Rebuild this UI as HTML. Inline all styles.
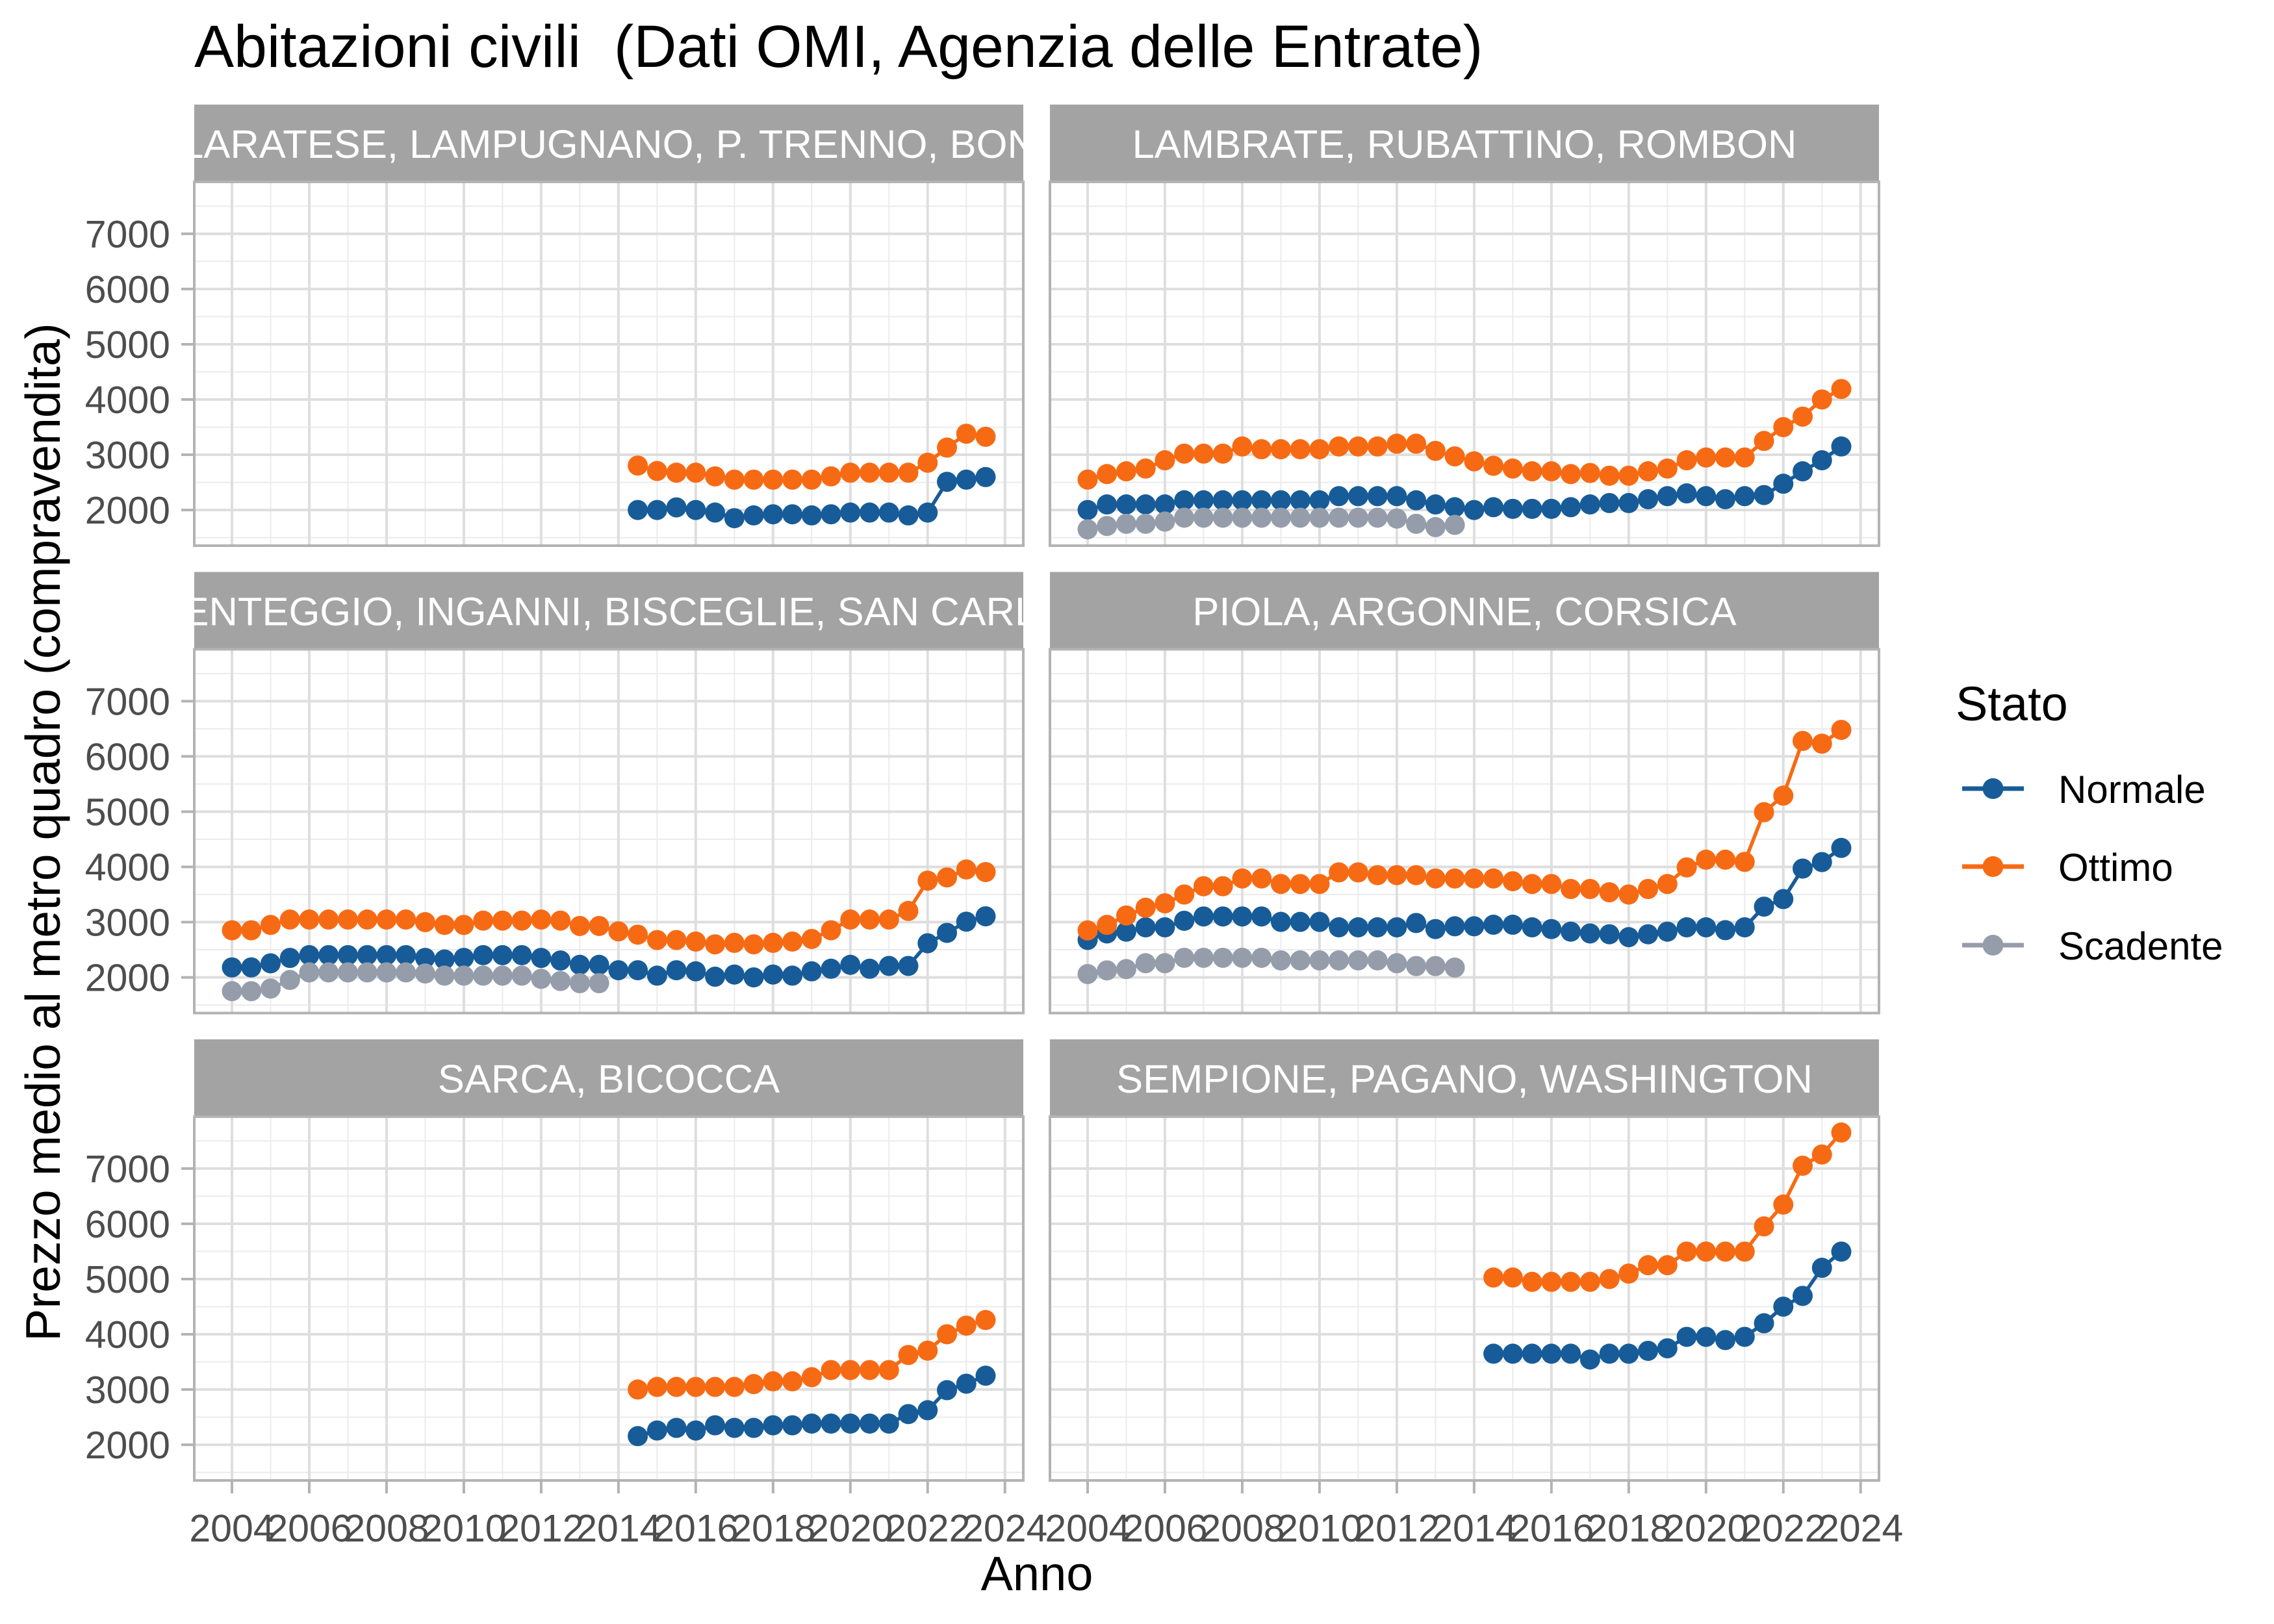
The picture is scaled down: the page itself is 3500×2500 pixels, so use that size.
<!DOCTYPE html>
<html><head><meta charset="utf-8"><title>Abitazioni civili</title>
<style>html,body{margin:0;padding:0;background:#fff}svg{display:block}text{font-family:"Liberation Sans",Arial,sans-serif}</style>
</head><body>
<svg id="chart" xmlns="http://www.w3.org/2000/svg" width="3500" height="2500" viewBox="0 0 3500 2500">
<rect x="0" y="0" width="3500" height="2500" fill="#ffffff"/>
<text x="299" y="103" font-size="91.5" fill="#000" style="white-space:pre">Abitazioni civili &#160;(Dati OMI, Agenzia delle Entrate)</text>
<text transform="translate(92,1281) rotate(-90)" text-anchor="middle" font-size="75" fill="#000">Prezzo medio al metro quadro (compravendita)</text>
<text x="1596" y="2448" text-anchor="middle" font-size="74" fill="#000">Anno</text>
<g id="panels"></g>
<g id="legend">
<text x="3010" y="1109" font-size="74" fill="#000">Stato</text>
</g>
</svg>
<script>
const years = [2004,2004.5,2005,2005.5,2006,2006.5,2007,2007.5,2008,2008.5,2009,2009.5,2010,2010.5,2011,2011.5,2012,2012.5,2013,2013.5,2014,2014.5,2015,2015.5,2016,2016.5,2017,2017.5,2018,2018.5,2019,2019.5,2020,2020.5,2021,2021.5,2022,2022.5,2023,2023.5];
const seriesNames = ["Normale","Ottimo","Scadente"];
const panelTitles = ["GALLARATESE, LAMPUGNANO, P. TRENNO, BONOLA","LAMBRATE, RUBATTINO, ROMBON","LORENTEGGIO, INGANNI, BISCEGLIE, SAN CARLO","PIOLA, ARGONNE, CORSICA","SARCA, BICOCCA","SEMPIONE, PAGANO, WASHINGTON"];
const yTicks = [2000,3000,4000,5000,6000,7000];
const xTicks = [2004,2006,2008,2010,2012,2014,2016,2018,2020,2022,2024];

const gallarateseNormale = [null,null,null,null,null,null,null,null,null,null,null,null,null,null,null,null,null,null,null,null,null,2000,2000,2047,2000,1953,1851,1902,1922,1922,1902,1922,1953,1953,1953,1902,1953,2510,2549,2596];
const gallarateseOttimo = [null,null,null,null,null,null,null,null,null,null,null,null,null,null,null,null,null,null,null,null,null,2804,2706,2675,2675,2608,2549,2549,2549,2549,2549,2608,2675,2675,2675,2675,2855,3129,3380,3325];
const gallarateseScadente = [];

const lambrateNormale = [2000,2100,2100,2100,2100,2175,2175,2175,2175,2175,2175,2175,2175,2250,2250,2250,2250,2175,2100,2050,2000,2050,2020,2020,2020,2050,2100,2125,2125,2195,2250,2300,2250,2195,2250,2270,2475,2700,2900,3150];
const lambrateOttimo = [2550,2650,2700,2750,2900,3020,3020,3020,3150,3100,3100,3100,3100,3150,3150,3150,3200,3200,3070,2970,2880,2800,2750,2700,2700,2650,2670,2620,2620,2700,2750,2900,2950,2950,2950,3250,3500,3690,4000,4190];
const lambrateScadente = [1650,1710,1750,1750,1790,1860,1860,1860,1860,1860,1860,1860,1860,1860,1860,1860,1845,1750,1690,1730];

const lorenteggioNormale = [2180,2180,2254,2352,2402,2402,2402,2402,2402,2402,2352,2324,2352,2402,2402,2402,2352,2305,2227,2227,2129,2129,2031,2129,2109,2012,2051,2000,2051,2031,2109,2156,2227,2156,2207,2207,2617,2805,3008,3105];
const lorenteggioOttimo = [2852,2852,2949,3047,3047,3047,3047,3047,3047,3047,3000,2949,2949,3027,3027,3027,3047,3027,2930,2930,2832,2773,2676,2676,2648,2598,2625,2598,2625,2648,2695,2852,3047,3047,3047,3203,3750,3809,3953,3906];
const lorenteggioScadente = [1750,1750,1797,1953,2090,2090,2090,2090,2090,2090,2070,2031,2031,2031,2031,2031,1973,1934,1895,1895];

const piolaNormale = [2677,2795,2827,2906,2906,3024,3102,3102,3102,3102,3004,3004,3004,2906,2906,2906,2906,2984,2874,2925,2925,2953,2953,2906,2874,2827,2795,2780,2728,2780,2827,2906,2906,2854,2906,3280,3417,3969,4087,4343];
const piolaOttimo = [2850,2950,3120,3260,3340,3500,3650,3650,3790,3790,3690,3690,3690,3900,3900,3850,3850,3850,3790,3790,3790,3790,3740,3690,3690,3600,3600,3540,3500,3600,3690,3990,4130,4130,4090,4990,5290,6280,6230,6480];
const piolaScadente = [2060,2126,2150,2256,2256,2354,2354,2354,2354,2354,2307,2307,2307,2307,2307,2307,2256,2205,2205,2177];

const sarcaNormale = [null,null,null,null,null,null,null,null,null,null,null,null,null,null,null,null,null,null,null,null,null,2156,2258,2305,2258,2352,2305,2305,2352,2352,2383,2383,2383,2383,2383,2555,2625,2988,3105,3250];
const sarcaOttimo = [null,null,null,null,null,null,null,null,null,null,null,null,null,null,null,null,null,null,null,null,null,3000,3047,3047,3047,3047,3047,3098,3148,3148,3223,3352,3352,3352,3352,3625,3703,4000,4156,4258];
const sarcaScadente = [];

const sempioneNormale = [null,null,null,null,null,null,null,null,null,null,null,null,null,null,null,null,null,null,null,null,null,3648,3648,3648,3648,3648,3543,3648,3648,3700,3746,3953,3953,3895,3953,4199,4500,4695,5203,5496];
const sempioneOttimo = [null,null,null,null,null,null,null,null,null,null,null,null,null,null,null,null,null,null,null,null,null,5027,5027,4949,4949,4949,4949,5000,5098,5250,5250,5496,5496,5496,5496,5953,6348,7051,7254,7652];
const sempioneScadente = [];

const colors = {Normale:"#175c98",Ottimo:"#f76a14",Scadente:"#959dab"};
const panelData = [
  [gallarateseNormale,gallarateseOttimo,gallarateseScadente],
  [lambrateNormale,lambrateOttimo,lambrateScadente],
  [lorenteggioNormale,lorenteggioOttimo,lorenteggioScadente],
  [piolaNormale,piolaOttimo,piolaScadente],
  [sarcaNormale,sarcaOttimo,sarcaScadente],
  [sempioneNormale,sempioneOttimo,sempioneScadente]
];
const stripShift = [0,0,-38,0,0,0];

const NS = "http://www.w3.org/2000/svg";
const colX = [299, 1616];
const panelW = 1276;
const rowStripTop = [161, 880.5, 1600];
const stripH = 119;
const panelH = 560;
const xMin = 2003.025, xMax = 2024.475;
const yMin = 1354, yMax = 7939;

function mk(tag, attrs, parent) {
  const el = document.createElementNS(NS, tag);
  for (const k in attrs) el.setAttribute(k, attrs[k]);
  parent.appendChild(el);
  return el;
}
function xScale(v, left) { return left + (v - xMin) / (xMax - xMin) * panelW; }
function yScale(v, top) { return top + panelH - (v - yMin) / (yMax - yMin) * panelH; }

const root = document.getElementById('panels');
const defs = mk('defs', {}, root);

panelTitles.forEach((title, p) => {
  const col = p % 2, row = Math.floor(p / 2);
  const left = colX[col];
  const sTop = rowStripTop[row];
  const top = sTop + stripH;
  const g = mk('g', {}, root);
  
  

  const clip = mk('clipPath', {id: 'clip' + p}, defs);
  mk('rect', {x: left, y: sTop, width: panelW, height: stripH}, clip);
  const strip = mk('rect', {x: left, y: sTop, width: panelW, height: stripH, fill: '#a3a3a3'}, g);
  
  
  const st = mk('text', {x: left + panelW / 2 + stripShift[p], y: sTop + 82, 'text-anchor': 'middle', 'font-size': 61.5, fill: '#ffffff', 'clip-path': 'url(#clip' + p + ')'}, g);
  st.textContent = title;
  
  

  mk('rect', {x: left, y: top, width: panelW, height: panelH, fill: '#ffffff'}, g);
  for (let v = 1500; v <= 7500; v += 1000) {
    const y = yScale(v, top);
    const l = mk('line', {x1: left, x2: left + panelW, y1: y, y2: y, stroke: '#ebebeb', 'stroke-width': 2}, g);
    
    
  }
  for (let v = 2005; v <= 2023; v += 2) {
    const x = xScale(v, left);
    const l = mk('line', {x1: x, x2: x, y1: top, y2: top + panelH, stroke: '#ebebeb', 'stroke-width': 2}, g);
    
    
  }
  yTicks.forEach(v => {
    const y = yScale(v, top);
    const l = mk('line', {x1: left, x2: left + panelW, y1: y, y2: y, stroke: '#dedede', 'stroke-width': 4}, g);
    
    
  });
  xTicks.forEach(v => {
    const x = xScale(v, left);
    const l = mk('line', {x1: x, x2: x, y1: top, y2: top + panelH, stroke: '#dedede', 'stroke-width': 4}, g);
    
    
  });

  panelData[p].forEach((vals, s) => {
    const name = seriesNames[s];
    const sg = mk('g', {}, g);
    
    
    let d = '', pen = false;
    vals.forEach((v, i) => {
      if (v === null || v === undefined) { pen = false; return; }
      d += (pen ? 'L' : 'M') + xScale(years[i], left).toFixed(1) + ',' + yScale(v, top).toFixed(1);
      pen = true;
    });
    if (d) {
      const path = mk('path', {d: d, fill: 'none', stroke: colors[name], 'stroke-width': 5.5, 'stroke-linejoin': 'round'}, sg);
      
      
    }
    vals.forEach((v, i) => {
      if (v === null || v === undefined) return;
      const c = mk('circle', {cx: xScale(years[i], left), cy: yScale(v, top), r: 15.5, fill: colors[name]}, sg);
      
      
    });
  });

  const b = mk('rect', {x: left, y: top, width: panelW, height: panelH, fill: 'none', stroke: '#b3b3b3', 'stroke-width': 4}, g);
  
  

  if (col === 0) {
    yTicks.forEach(v => {
      const y = yScale(v, top);
      const t = mk('line', {x1: left - 20, x2: left, y1: y, y2: y, stroke: '#b3b3b3', 'stroke-width': 4}, g);
      
      
      const lb = mk('text', {x: left - 37, y: y + 21, 'text-anchor': 'end', 'font-size': 59, fill: '#4d4d4d'}, g);
      lb.textContent = v;
      
      
    });
  }
  if (row === 2) {
    xTicks.forEach(v => {
      const x = xScale(v, left);
      const t = mk('line', {x1: x, x2: x, y1: top + panelH, y2: top + panelH + 20, stroke: '#b3b3b3', 'stroke-width': 4}, g);
      
      
      const lb = mk('text', {x: x, y: 2373, 'text-anchor': 'middle', 'font-size': 59, fill: '#4d4d4d'}, g);
      lb.textContent = v;
      
      
    });
  }
});

const legend = document.getElementById('legend');
const legendY = [1214, 1334, 1455];
seriesNames.forEach((name, i) => {
  const eg = mk('g', {}, legend);
  
  
  const y = legendY[i];
  mk('line', {x1: 3020, x2: 3115, y1: y, y2: y, stroke: colors[name], 'stroke-width': 7}, eg);
  mk('circle', {cx: 3067.5, cy: y, r: 16, fill: colors[name]}, eg);
  const t = mk('text', {x: 3168, y: y + 22, 'font-size': 60, fill: '#000'}, eg);
  t.textContent = name;
});
</script>
</body></html>
